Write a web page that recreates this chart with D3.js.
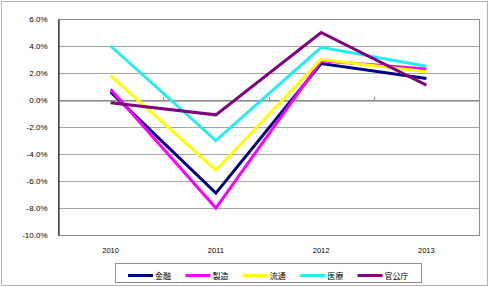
<!DOCTYPE html>
<html>
<head>
<meta charset="utf-8">
<script src="https://cdn.jsdelivr.net/npm/d3@7"></script>
<style>
  body { margin: 0; background: #fff; }
  svg { display: block; font-family: "Liberation Sans", Arial, sans-serif; }
</style>
</head>
<body>
<div id="chart"></div>
<script>
// categories and series
var years = ["2010", "2011", "2012", "2013"];
var names = ["金融", "製造", "流通", "医療", "官公庁"];
var kinyu   = [0.6, -6.9, 2.7, 1.6];
var seizo   = [0.8, -8.0, 2.9, 2.3];
var ryutsu  = [1.8, -5.2, 3.0, 2.1];
var iryo    = [4.0, -3.0, 3.9, 2.5];
var kankoch = [-0.2, -1.1, 5.0, 1.1];
var yTicks = [6, 4, 2, 0, -2, -4, -6, -8, -10];

var series = [kinyu, seizo, ryutsu, iryo, kankoch];
var colors = ["#000080", "#ff00ff", "#ffff00", "#22eeee", "#800080"];

var W = 490, H = 287;
var plot = {left: 58, top: 19, right: 479, bottom: 235};

var svg = d3.select("#chart").append("svg")
    .attr("width", W)
    .attr("height", H);

// outer frame
svg.append("rect")
    .attr("x", 1.5).attr("y", 1.5)
    .attr("width", W - 4).attr("height", H - 3)
    .attr("fill", "#fff")
    .attr("stroke", "#b4b4b4");

var x = d3.scaleBand()
    .domain(years)
    .range([plot.left, plot.right]);

var y = d3.scaleLinear()
    .domain([-10, 6])
    .range([plot.bottom, plot.top]);

// gridlines
svg.append("g")
  .selectAll("line")
  .data(yTicks)
  .join("line")
    .attr("x1", plot.left).attr("x2", plot.right)
    .attr("y1", function(d) { return Math.round(y(d)) + 0.5; })
    .attr("y2", function(d) { return Math.round(y(d)) + 0.5; })
    .attr("stroke", "#a6a6a6");

// plot border
svg.append("rect")
    .attr("x", plot.left + 0.5).attr("y", plot.top + 0.5)
    .attr("width", plot.right - plot.left).attr("height", plot.bottom - plot.top)
    .attr("fill", "none")
    .attr("stroke", "#909090");

// y axis
var yAxis = d3.axisLeft(y)
    .tickValues(yTicks)
    .tickSize(0)
    .tickPadding(11)
    .tickFormat(function(d) { return d.toFixed(1) + "%"; });

svg.append("g")
    .attr("transform", "translate(" + (plot.left + 0.5) + ",0)")
    .call(yAxis)
    .call(function(g) {
      g.select(".domain").attr("stroke", "#000");
      g.selectAll("text").attr("font-size", 8).attr("fill", "#000");
    });

// x axis line at zero with ticks between categories
var xAxis = d3.axisBottom(x).tickSize(0).tickFormat("");
svg.append("g")
    .attr("transform", "translate(0," + (Math.round(y(0)) + 0.5) + ")")
    .call(xAxis)
    .call(function(g) {
      g.select(".domain").attr("stroke", "#707070");
    });

svg.append("g")
  .selectAll("line")
  .data(years.slice(1))
  .join("line")
    .attr("x1", function(d) { return Math.round(x(d)) + 0.5; })
    .attr("x2", function(d) { return Math.round(x(d)) + 0.5; })
    .attr("y1", Math.round(y(0)) + 0.5)
    .attr("y2", Math.round(y(0)) - 3)
    .attr("stroke", "#909090");

// category labels
svg.append("g")
  .selectAll("text")
  .data(years)
  .join("text")
    .attr("x", function(d) { return x(d) + x.bandwidth() / 2; })
    .attr("y", plot.bottom + 18)
    .attr("text-anchor", "middle")
    .attr("font-size", 7.5)
    .text(function(d) { return d; });

// lines
var line = d3.line()
    .x(function(d, i) { return x(years[i]) + x.bandwidth() / 2; })
    .y(function(d) { return y(d); });

svg.append("g")
  .selectAll("path")
  .data(series)
  .join("path")
    .attr("fill", "none")
    .attr("stroke", function(d, i) { return colors[i]; })
    .attr("stroke-width", 3)
    .attr("d", line);

// legend
svg.append("rect")
    .attr("x", 115.5).attr("y", 263.5)
    .attr("width", 306).attr("height", 19)
    .attr("fill", "#fff")
    .attr("stroke", "#909090");

var lg = svg.append("g")
  .selectAll("g")
  .data(names)
  .join("g")
    .attr("transform", function(d, i) { return "translate(" + (128 + i * 57.4) + ",276)"; });

lg.append("line")
    .attr("x1", 0).attr("x2", 25)
    .attr("y1", -0.5).attr("y2", -0.5)
    .attr("stroke", function(d, i) { return colors[i]; })
    .attr("stroke-width", 3);

lg.append("text")
    .attr("x", 27)
    .attr("y", 3)
    .attr("font-size", 8)
    .attr("font-family", "'Noto Sans CJK JP', sans-serif")
    .text(function(d) { return d; });
</script>
</body>
</html>
